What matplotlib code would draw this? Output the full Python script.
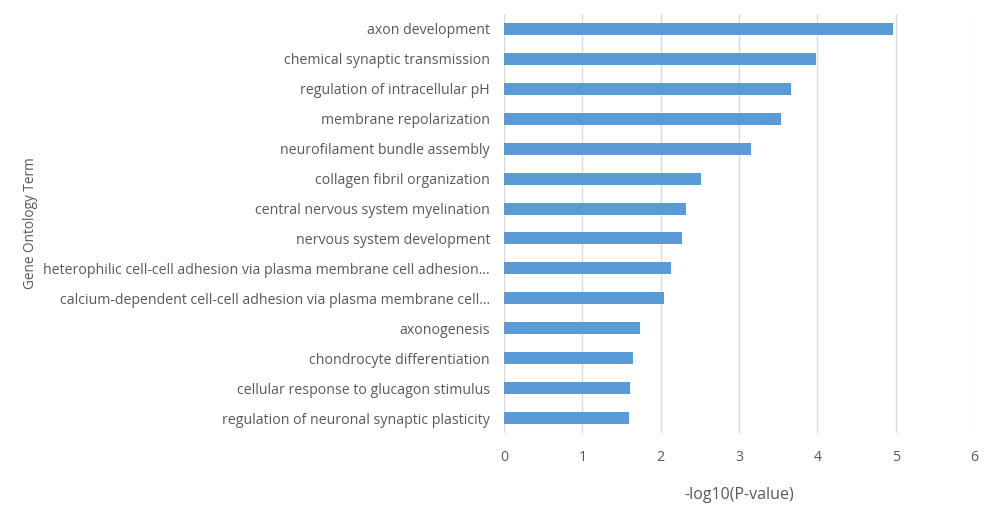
import numpy as np
import matplotlib.pyplot as plt

plt.rcParams['font.family'] = ['Open Sans', 'DejaVu Sans']

terms = [
    "axon development",
    "chemical synaptic transmission",
    "regulation of intracellular pH",
    "membrane repolarization",
    "neurofilament bundle assembly",
    "collagen fibril organization",
    "central nervous system myelination",
    "nervous system development",
    "heterophilic cell-cell adhesion via plasma membrane cell adhesion\u2026",
    "calcium-dependent cell-cell adhesion via plasma membrane cell\u2026",
    "axonogenesis",
    "chondrocyte differentiation",
    "cellular response to glucagon stimulus",
    "regulation of neuronal synaptic plasticity",
]
neg_log_p = [4.96, 3.98, 3.66, 3.53, 3.15, 2.51, 2.32, 2.27, 2.13, 2.04,
             1.73, 1.65, 1.61, 1.60]

grey = '#595959'
fig = plt.figure(figsize=(9.94, 5.12), dpi=100)
ax = fig.add_axes([0.507, 0.154, 0.473, 0.819])

y = np.arange(len(terms))
ax.barh(y, neg_log_p, height=0.4, color='#5b9bd5', zorder=2)
ax.set_ylim(len(terms) - 0.5, -0.5)
ax.set_xlim(0, 6)
ax.set_xticks(range(7))
ax.set_yticks(y)
ax.set_yticklabels(terms)
ax.grid(axis='x', color='#d9d9d9', linewidth=1, zorder=0)
for s in ax.spines.values():
    s.set_visible(False)
ax.tick_params(axis='both', length=0, colors=grey, labelsize=10.2)
ax.tick_params(axis='y', pad=10)
ax.tick_params(axis='x', pad=12)
ax.set_xlabel('-log10(P-value)', color=grey, fontsize=11.5, labelpad=16)
fig.text(0.031, 0.564, 'Gene Ontology Term', rotation=90, color=grey,
         fontsize=9.8, ha='center', va='center')

fig.savefig('out.png', dpi=100)
